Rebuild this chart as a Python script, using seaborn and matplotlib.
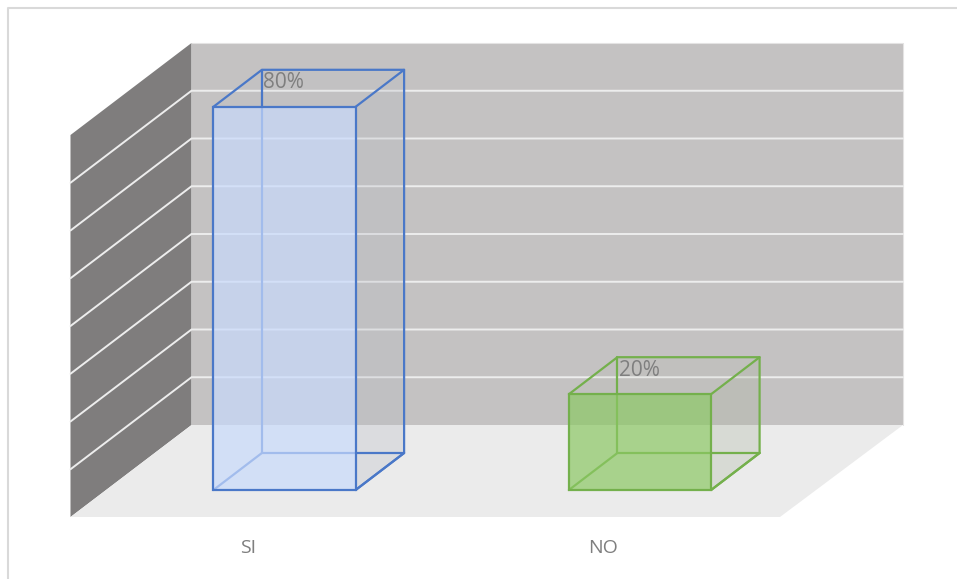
import matplotlib
matplotlib.use("Agg")
import matplotlib.pyplot as plt
import seaborn as sns
from matplotlib.colors import to_rgba
from matplotlib.patches import Polygon

categorias = ["SI", "NO"]
valores = [80, 20]
etiquetas = ["80%", "20%"]
grid_valores = [10, 20, 30, 40, 50, 60, 70]
eje_max = 80

W, H = 957, 579
# front plane of the bars, in pixels
CAT0_PX, CAT_STEP = 284.5, 355.5
BASE_PX, PX_POR_UNIDAD = 490, 4.79
# the back wall is a touch shorter than the bar scale
ESCALA_PARED = 4.775 / PX_POR_UNIDAD


def px_x(p):
    return (p - CAT0_PX) / CAT_STEP


def px_y(p):
    return (BASE_PX - p) / PX_POR_UNIDAD


sns.set_theme(style="white")
plt.rcParams["font.family"] = ["Open Sans", "DejaVu Sans"]

fig, ax = plt.subplots(figsize=(W / 100, H / 100), dpi=100)
fig.subplots_adjust(left=0, right=1, bottom=0, top=1)

bar_colors = ["#C8DAFC", "#8CC864"]
edge_colors = ["#4A78C8", "#74B04C"]
side_colors = ["#B8BCC4", "#AAB4A0"]
sns.barplot(x=categorias, y=valores, hue=categorias, palette=bar_colors, width=0.4,
            legend=False, ax=ax)
ax.set_xlim(px_x(0), px_x(W))
ax.set_ylim(px_y(H), px_y(0))
ax.axis("off")

# walls and floor
izq, fondo_x = px_x(70.5), px_x(191.5)
der_front, der_back = px_x(780), px_x(903)
y_front, y_back = px_y(517), px_y(425)
alto = eje_max * ESCALA_PARED

ax.add_patch(Polygon([(fondo_x, y_back), (der_back, y_back), (der_back, y_back + alto), (fondo_x, y_back + alto)],
                     fc="#C4C2C2", ec="none", zorder=1))
ax.plot([fondo_x, der_back, der_back], [y_back + alto, y_back + alto, y_back], color="#E4E3E3", lw=0.8, zorder=1)
ax.add_patch(Polygon([(izq, y_front), (fondo_x, y_back), (fondo_x, y_back + alto), (izq, y_front + alto)],
                     fc="#7F7D7D", ec="none", zorder=1))
ax.add_patch(Polygon([(izq, y_front), (der_front, y_front), (der_back, y_back), (fondo_x, y_back)],
                     fc="#EBEBEB", ec="none", zorder=1))

for v in grid_valores:
    g = v * ESCALA_PARED
    ax.plot([izq, fondo_x, der_back], [y_front + g, y_back + g, y_back + g],
            color="#EDEDED", lw=1.4, zorder=2, solid_joinstyle="miter")

# bars: depth faces come from the patches seaborn drew
prof_x = 48.5 / CAT_STEP
prof_y = 37 / PX_POR_UNIDAD
lw_bar = 1.6

for bar, edge, fill, side, etiqueta in zip(ax.patches[:2], edge_colors, bar_colors, side_colors, etiquetas):
    x0, w, h = bar.get_x(), bar.get_width(), bar.get_height()
    x1 = x0 + w
    bx0, bx1, ytop, ybot = x0 + prof_x, x1 + prof_x, h + prof_y, prof_y

    # translucent side and top
    ax.add_patch(Polygon([(x1, 0), (bx1, ybot), (bx1, ytop), (x1, h)],
                         fc=to_rgba(side, 0.3), ec="none", zorder=3))
    ax.add_patch(Polygon([(x0, h), (x1, h), (bx1, ytop), (bx0, ytop)],
                         fc=to_rgba(side, 0.1), ec="none", zorder=3))

    # wireframe behind the front face
    ax.plot([x0, bx0, bx1, x1], [0, ybot, ybot, 0], color=edge, lw=lw_bar, zorder=3)
    ax.plot([bx0, bx0], [ybot, ytop], color=edge, lw=lw_bar, zorder=3)
    ax.plot([x0, bx0, bx1, bx1], [h, ytop, ytop, ybot], color=edge, lw=lw_bar, zorder=3)
    ax.plot([x1, bx1], [h, ytop], color=edge, lw=lw_bar, zorder=5)
    ax.plot([x1, bx1], [0, ybot], color=edge, lw=lw_bar, zorder=5)

    bar.set_facecolor(to_rgba(fill, 0.7))
    bar.set_edgecolor(edge)
    bar.set_linewidth(lw_bar)
    bar.set_zorder(4)

    ax.text(bx0 + 1.5 / CAT_STEP, ytop - 13 / PX_POR_UNIDAD, etiqueta, color="#7F7F7F", fontsize=15,
            ha="left", va="center", zorder=6)

# category labels sit left of the bars
for i, cat in enumerate(categorias):
    ax.text(i - 36.5 / CAT_STEP, px_y(548), cat, color="#7F7F7F", fontsize=14,
            ha="center", va="center", zorder=6)

# chart frame, only top and left show
ax.plot([px_x(8), px_x(8), px_x(W)], [px_y(H), px_y(8), px_y(8)], color="#D9D9D9", lw=1.5, zorder=7)

fig.savefig("out.png", dpi=100, facecolor="white")
